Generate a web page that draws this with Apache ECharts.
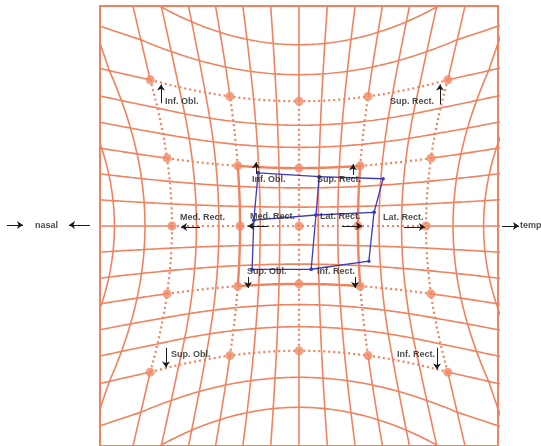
<!DOCTYPE html>
<html><head><meta charset="utf-8">
<script src="https://cdn.jsdelivr.net/npm/echarts@6/dist/echarts.min.js"></script>
<style>html,body{margin:0;padding:0;background:#fff}#c{width:541px;height:446px}</style>
</head><body><div id="c"></div>
<script>
// ---------- data ----------
const gridDegrees = [-40,-35,-30,-25,-20,-15,-10,-5,0,5,10,15,20,25,30,35,40];
const targetDegrees = [-30,-15,0,15,30];
const fieldPositions = ['TL','T','TR','L','C','R','BL','B','BR'];
const measuredH = [-10.2, 5.1, 20.5, -11.6, 4.4, 18.8, -11.8, 3.1, 17.4];
const measuredV = [13.6, 12.8, 11.5, 1.5, 2.9, 3.4, -11.1, -11.3, -8.8];
const outerLabels = ['Inf. Obl.','Sup. Rect.','Med. Rect.','Lat. Rect.','Sup. Obl.','Inf. Rect.'];
const innerLabels = ['Inf. Obl.','Sup. Rect.','Med. Rect.','Lat. Rect.','Sup. Obl.','Inf. Rect.'];
const sideLabels = ['nasal','temporal'];

// ---------- layout (pixels) ----------
const CX = 299, CY = 230;
const toAxis = (px, py) => [px - CX, CY - py];
const outerLabelPos = [[165,103],[390,103],[180,221],[383,221],[171,361],[397,361]];
const innerLabelPos = [[252,183],[317,183],[250,220],[320,220],[247,276],[317,276]];
const sideLabelPos = [[35,229],[520,230]];
const arrowPos = [
  [[161,105],[161,86]], [[440,106],[440,86]], [[200,231],[181,231]], [[404,231],[425,231]],
  [[166,354],[166,374]], [[437,354],[437,376]],
  [[256,177],[256,165]], [[353,178],[353,167]], [[268,230],[248,230]], [[342,230],[362,230]],
  [[248,282],[248,293]], [[355,282],[355,293]],
  [[7,229],[23,229]], [[90,229],[69,229]], [[502,230],[519,230]]
];

// ---------- Hess screen projection ----------
const D = Math.PI / 180, K = 220;
function expo(a){ const t = Math.tan(a*D); return 1.1 + 2.2*Math.max(0, t*t - 1/3); }
function project(h, v){
  const th = Math.tan(h*D), tv = Math.tan(v*D);
  const sh = 1/Math.cos(h*D), sv = 1/Math.cos(v*D);
  return [K*th*Math.pow(sv, expo(h)), K*tv*Math.pow(sh, expo(v))];
}
function sample(fixed, vertical, a, b){
  const pts = [];
  for (let s = a; s <= b + 1e-9; s += 0.5) pts.push(vertical ? project(fixed, s) : project(s, fixed));
  return pts;
}

const ORANGE = '#f0835f';
const series = [];
function addLine(pts, style){
  series.push({type:'line', data:pts, showSymbol:false, silent:true, clip:true, z:style.z||2,
    lineStyle:{color:ORANGE, width:style.width, type:style.type||'solid'}, animation:false});
}
const solid = {width:1.6}, dotted = {width:2.2, type:[2,3], z:3}, thick = {width:2.4, z:3};
gridDegrees.forEach(g => {
  [true,false].forEach(vertical => {
    if (targetDegrees.includes(g)) {
      addLine(sample(g, vertical, -60, -30), solid);
      addLine(sample(g, vertical, 30, 60), solid);
      if (Math.abs(g) === 15) {
        addLine(sample(g, vertical, -30, -15), dotted);
        addLine(sample(g, vertical, 15, 30), dotted);
        addLine(sample(g, vertical, -15, 15), thick);
      } else {
        addLine(sample(g, vertical, -30, 30), dotted);
      }
    } else {
      addLine(sample(g, vertical, -60, 60), solid);
    }
  });
});

// target dots
const dots = [];
targetDegrees.forEach(h => targetDegrees.forEach(v => dots.push(project(h, v))));
series.push({type:'scatter', data:dots, symbol:'circle', symbolSize:9, z:4, silent:true,
  itemStyle:{color:'#f08a66'}, animation:false});

// measured field (blue)
const mp = fieldPositions.map((n,i) => project(measuredH[i], measuredV[i]));
const idx = n => fieldPositions.indexOf(n);
const BLUE = '#3b3bbf';
[['TL','T','TR','R','BR','B','BL','L','TL'], ['T','C','B'], ['L','C','R']].forEach(path => {
  series.push({type:'line', data:path.map(n => mp[idx(n)]), symbol:'circle', symbolSize:3.5, showSymbol:true,
    z:6, silent:true, lineStyle:{color:BLUE, width:1.3}, itemStyle:{color:BLUE}, animation:false});
});

// arrows
series.push({type:'lines', coordinateSystem:'cartesian2d', clip:false, z:7, silent:true,
  symbol:['none','arrow'], symbolSize:[5,6],
  lineStyle:{color:'#1a1a1a', width:1, opacity:1},
  data: arrowPos.map(a => ({coords:[toAxis(a[0][0],a[0][1]), toAxis(a[1][0],a[1][1])]})),
  animation:false});

// labels
const labelData = [];
outerLabels.forEach((t,i) => labelData.push({name:t, value:toAxis(...outerLabelPos[i])}));
innerLabels.forEach((t,i) => labelData.push({name:t, value:toAxis(...innerLabelPos[i])}));
sideLabels.forEach((t,i) => labelData.push({name:t, value:toAxis(...sideLabelPos[i])}));
series.push({type:'scatter', data:labelData, symbolSize:0, clip:false, z:8, silent:true,
  label:{show:true, position:'right', distance:0, formatter:'{b}', color:'#1a1a1a',
    fontFamily:'Liberation Sans', fontSize:9, fontWeight:'bold'}, animation:false});

const chart = echarts.init(document.getElementById('c'), null, {renderer:'canvas'});
chart.setOption({
  animation:false,
  backgroundColor:'#ffffff',
  grid:{left:100, top:6, width:398, height:448, show:true, borderColor:ORANGE, borderWidth:2, backgroundColor:'transparent'},
  xAxis:{type:'value', min:-199, max:199, show:false},
  yAxis:{type:'value', min:-224, max:224, show:false},
  series
});
</script></body></html>
